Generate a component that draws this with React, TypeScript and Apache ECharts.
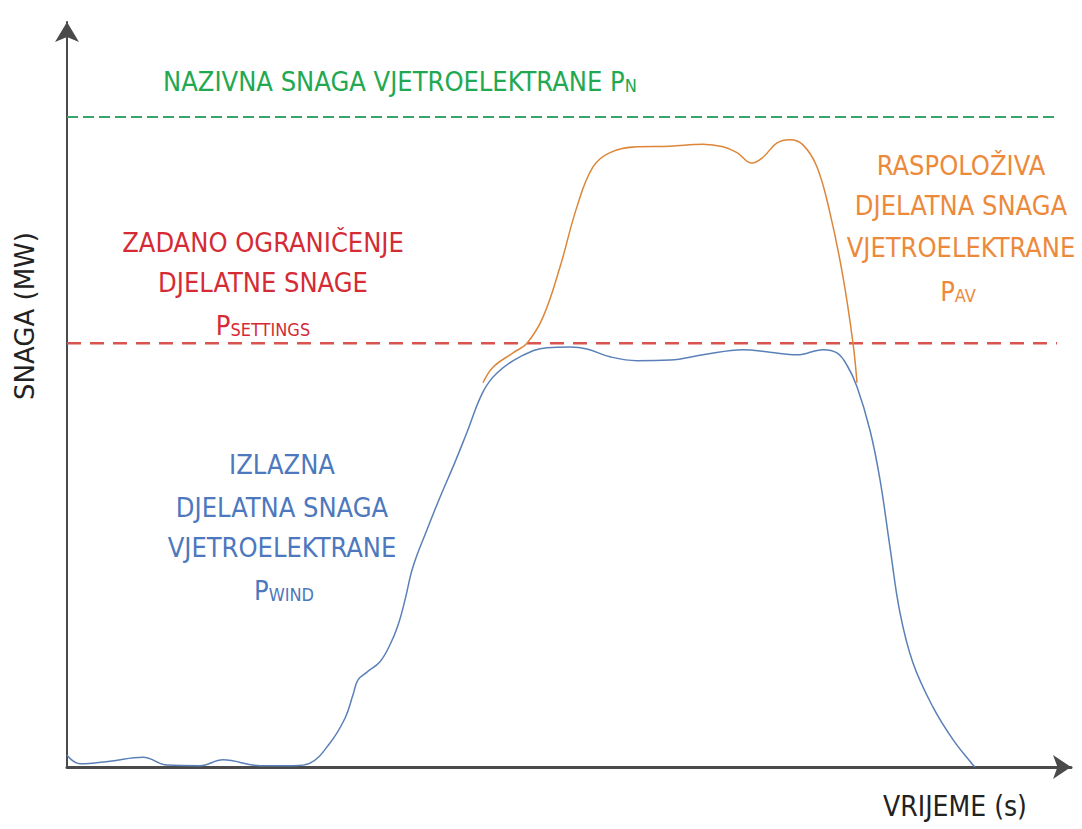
import React, { useEffect, useRef } from "react";
import * as echarts from "echarts";

// Izlazna djelatna snaga vjetroelektrane P_WIND (time s, power MW)
const pWindTime = [0, 1.3, 4.3, 7.6, 10, 13.3, 15.6, 19.3, 22.6, 24.3, 26.3, 27.8, 28.6, 29.1, 30, 31.3, 32.3, 33.1, 33.8, 34.6, 36, 37.3, 38.8, 40, 41.6, 43, 45.3, 48, 50.3, 52, 54.3, 57, 60.3, 63.6, 67.6, 70.3, 73, 75.6, 77, 78, 79, 80.3, 81.3, 82.3, 83.3, 84.6, 86.6, 88.6, 90.6, 90.8];
const pWindValue = [1.8, 0.5, 0.9, 1.5, 0.3, 0.2, 1.1, 0.2, 0.2, 0.6, 3.7, 7.5, 11.1, 13.4, 14.6, 16.2, 18.8, 21.8, 25.7, 30.8, 36.5, 41.5, 46.9, 51.5, 57.7, 60.6, 63.1, 64.5, 64.6, 64.3, 63.1, 62.5, 62.6, 63.4, 64.2, 63.8, 63.4, 64.2, 63.7, 61.8, 58.5, 51.8, 44.2, 33.8, 23.7, 16, 9.2, 4.2, 0.3, 0];

// Raspoloziva djelatna snaga vjetroelektrane P_AV
const pAvTime = [41.6, 42.6, 44.6, 46, 47.6, 49.3, 51, 52.6, 54.3, 57, 60.3, 63.6, 65.6, 67, 68.5, 69.6, 71, 72.3, 73.6, 75, 76.3, 77.6, 78.6, 79];
const pAvValue = [59.1, 61.5, 63.7, 65.2, 69.2, 76.9, 86.2, 92.3, 94.5, 95.4, 95.5, 95.8, 95.4, 94.5, 92.9, 93.8, 96, 96.5, 95.7, 92.3, 85.2, 75.4, 65.2, 59.1];

// Reference levels
const ratedPowerPn = 100;
const settingsLimit = 65.2;
const levelLineTime = [0, 99];

// Label texts
const pnLabel = ["NAZIVNA SNAGA VJETROELEKTRANE P", "N"];
const settingsLabel = ["ZADANO OGRANIČENJE", "DJELATNE SNAGE"];
const settingsSub = ["P", "SETTINGS"];
const windLabel = ["IZLAZNA", "DJELATNA SNAGA", "VJETROELEKTRANE"];
const windSub = ["P", "WIND"];
const avLabel = ["RASPOLOŽIVA", "DJELATNA SNAGA", "VJETROELEKTRANE"];
const avSub = ["P", "AV"];
const xTitle = "VRIJEME (s)";
const yTitle = "SNAGA (MW)";

const FONT = "'Liberation Sans Narrow', 'DejaVu Sans Condensed', 'Open Sans', sans-serif";
const FS = 27;

function zip(xs: number[], ys: number[]) {
  return xs.map((x, i) => [x, ys[i]]);
}

function lines(texts: string[], cx: number, ys: number[], color: string) {
  return texts.map((t, i) => ({
    type: "text",
    x: cx,
    y: ys[i],
    silent: true,
    style: {
      text: t,
      fill: color,
      fontFamily: FONT,
      fontSize: FS,
      align: "center",
      verticalAlign: "middle",
    },
  }));
}

function subLabel(parts: string[], x: number, y: number, color: string, align: string) {
  return {
    type: "text",
    x,
    y,
    silent: true,
    style: {
      text: `{a|${parts[0]}}{b|${parts[1]}}`,
      align,
      verticalAlign: "middle",
      rich: {
        a: { fill: color, fontFamily: FONT, fontSize: FS, verticalAlign: "bottom" },
        b: { fill: color, fontFamily: FONT, fontSize: 18, verticalAlign: "bottom" },
      },
    },
  };
}

export default function App() {
  const ref = useRef<HTMLDivElement>(null);
  useEffect(() => {
    const chart = echarts.init(ref.current!, null, { renderer: "svg" });
    const blueText = "#4d78bd";
    const redText = "#d42b35";
    const orangeText = "#ec8a3c";
    const greenText = "#22a851";
    chart.setOption({
      animation: false,
      backgroundColor: "#ffffff",
      grid: { left: 67, right: 11, top: 22, bottom: 62 },
      xAxis: {
        type: "value",
        min: 0,
        max: 100.4,
        axisLine: {
          show: true,
          symbol: ["none", "arrow"],
          symbolSize: [18, 18],
          lineStyle: { color: "#4a4a4a", width: 3 },
        },
        axisTick: { show: false },
        axisLabel: { show: false },
        splitLine: { show: false },
      },
      yAxis: {
        type: "value",
        min: 0,
        max: 114.6,
        axisLine: {
          show: true,
          symbol: ["none", "arrow"],
          symbolSize: [18, 20],
          lineStyle: { color: "#4a4a4a", width: 2 },
        },
        axisTick: { show: false },
        axisLabel: { show: false },
        splitLine: { show: false },
      },
      series: [
        {
          type: "line",
          name: "Pn",
          data: zip(levelLineTime, [ratedPowerPn, ratedPowerPn]),
          showSymbol: false,
          silent: true,
          lineStyle: { color: "#35a56d", width: 2, type: [11, 5] },
        },
        {
          type: "line",
          name: "Psettings",
          data: zip(levelLineTime, [settingsLimit, settingsLimit]),
          showSymbol: false,
          silent: true,
          lineStyle: { color: "#d9534f", width: 2.5, type: [14, 9] },
        },
        {
          type: "line",
          name: "Pav",
          data: zip(pAvTime, pAvValue),
          smooth: 0.4,
          showSymbol: false,
          silent: true,
          lineStyle: { color: "#dd863a", width: 1.5 },
        },
        {
          type: "line",
          name: "Pwind",
          data: zip(pWindTime, pWindValue),
          smooth: 0.4,
          showSymbol: false,
          silent: true,
          lineStyle: { color: "#5b80b8", width: 1.5 },
        },
      ],
      graphic: [
        subLabel(pnLabel, 163, 81, greenText, "left"),
        ...lines(settingsLabel, 263, [242, 282.5], redText),
        subLabel(settingsSub, 263, 325, redText, "center"),
        ...lines(windLabel, 282, [464, 507.5, 547.5], blueText),
        subLabel(windSub, 284, 590, blueText, "center"),
        ...lines(avLabel, 961, [165, 205, 247], orangeText),
        subLabel(avSub, 958, 291, orangeText, "center"),
        {
          type: "text",
          x: 883,
          y: 806,
          silent: true,
          style: {
            text: xTitle,
            fill: "#222",
            fontFamily: FONT,
            fontSize: 28,
            align: "left",
            verticalAlign: "middle",
          },
        },
        {
          type: "text",
          x: 25,
          y: 316,
          rotation: Math.PI / 2,
          silent: true,
          style: {
            text: yTitle,
            fill: "#222",
            fontFamily: "'DejaVu Sans', sans-serif",
            fontSize: 26,
            align: "center",
            verticalAlign: "middle",
          },
        },
      ],
    });
    return () => chart.dispose();
  }, []);
  return (
    <div
      ref={ref}
      style={{ position: "fixed", left: 0, top: 0, width: 1082, height: 829 }}
    />
  );
}
